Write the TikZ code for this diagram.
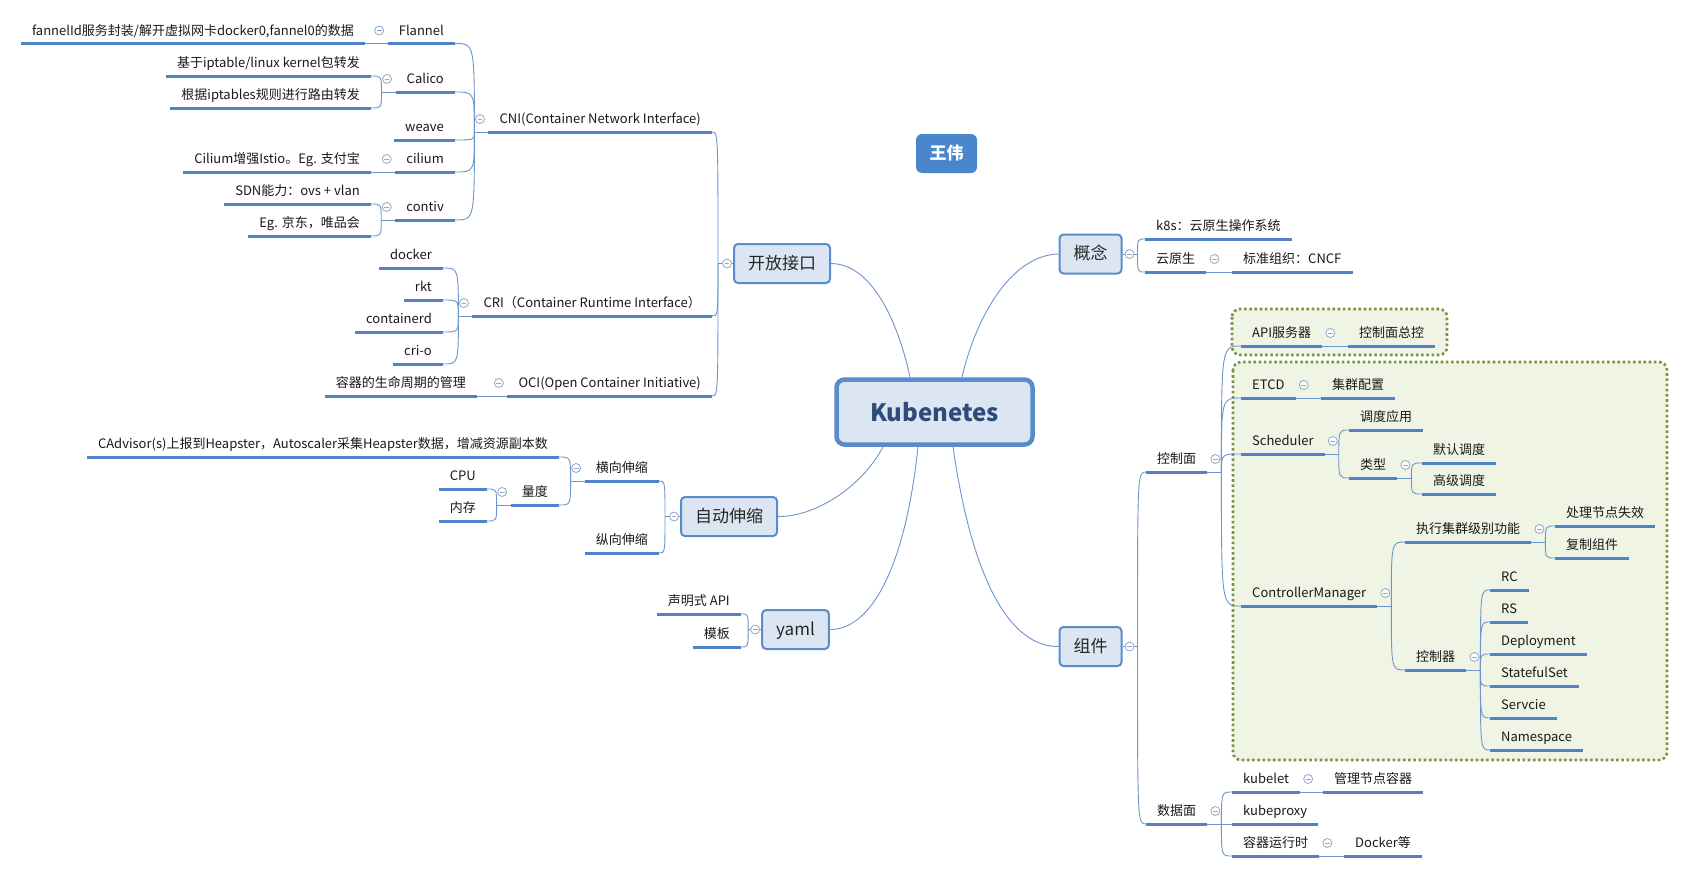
\documentclass[tikz,border=0pt]{standalone}
\usepackage{fontspec}
\setmainfont{Noto Sans CJK SC}
\definecolor{uline}{HTML}{4F83C6}
\definecolor{conncol}{HTML}{6D95CB}
\definecolor{boxfill}{HTML}{DCE6F2}
\definecolor{boxdraw}{HTML}{5A8BCB}
\definecolor{circol}{HTML}{8FA8CC}
\definecolor{gfill}{HTML}{EFF4E4}
\definecolor{gdraw}{HTML}{7A9440}
\definecolor{wbfill}{HTML}{4A86CC}
\definecolor{kubetxt}{HTML}{2E4B7C}
\newcommand{\mmL}[2]{\draw[cn] (#1j) .. controls (#1j |- #2.south east) .. (#2.south east);}
\newcommand{\mmR}[2]{\draw[cn] (#1j) .. controls (#1j |- #2.south west) .. (#2.south west);}
\tikzset{
  tbase/.style={font=\fontsize{13}{13}\selectfont, inner xsep=11pt, inner ysep=5pt, text height=10pt, text depth=3pt, text=black!90},
  lnode/.style={tbase, anchor=south east},
  rnode/.style={tbase, anchor=south west},
  mainbox/.style={draw=boxdraw, line width=2pt, fill=boxfill, rounded corners=4pt, minimum height=39pt, inner xsep=14pt, text height=14pt, text depth=3pt, font=\fontsize{17}{17}\selectfont, text=black!85},
  kubebox/.style={draw=boxdraw, line width=4.5pt, fill=boxfill, rounded corners=8pt, minimum width=196pt, minimum height=65pt, font=\fontsize{24}{24}\selectfont\bfseries, text=kubetxt},
  wwbox/.style={fill=wbfill, rounded corners=6pt, minimum width=61pt, minimum height=39pt, font=\fontsize{17}{17}\selectfont\bfseries, text=white},
  gbox/.style={draw=gdraw, fill=gfill, line width=2.6pt, dash pattern=on 2.6pt off 2.6pt, rounded corners=8pt},
  ul/.style={draw=uline, line width=3pt},
  cn/.style={draw=conncol, line width=0.9pt},
  tog/.style={circle, draw=circol, fill=white, line width=0.8pt, minimum size=9pt, inner sep=0pt,
    path picture={\draw[circol,line width=0.8pt] ([xshift=-2.4pt]path picture bounding box.center) -- ([xshift=2.4pt]path picture bounding box.center);}},
}
\begin{document}
\begin{tikzpicture}[x=1pt,y=-1pt]
\useasboundingbox (0,0) rectangle (1684,873);
\fill[white] (0,0) rectangle (1684,873);

% green dotted groups
\draw[gbox] (1232,309) rectangle (1447,355);
\draw[gbox] (1233,362) rectangle (1667,760);

% central and main boxes
\node[kubebox] (kube) at (934.5,412) {Kubenetes};
\node[wwbox] (ww) at (946.5,153.5) {王伟};
\node[mainbox] (kf) at (782,263.5) {开放接口};
\node[mainbox] (gn) at (1090.5,254) {概念};
\node[mainbox] (zd) at (729,516.5) {自动伸缩};
\node[mainbox] (ym) at (795.5,629.5) {yaml};
\node[mainbox] (zj) at (1090.5,646.5) {组件};

% ---- left side topics
\node[lnode] (cni) at (712,132) {CNI(Container Network Interface)};
\node[lnode] (fl) at (455,43.5) {Flannel};
\node[lnode] (fld) at (365,43.5) {fannelId服务封装/解开虚拟网卡docker0,fannel0的数据};
\node[lnode] (ca) at (455,92) {Calico};
\node[lnode] (caa) at (371,76) {基于iptable/linux kernel包转发};
\node[lnode] (cab) at (371,108) {根据iptables规则进行路由转发};
\node[lnode] (we) at (455,140) {weave};
\node[lnode] (ci) at (455,172) {cilium};
\node[lnode] (cia) at (371,172) {Cilium增强Istio。Eg. 支付宝};
\node[lnode] (co) at (455,220) {contiv};
\node[lnode] (coa) at (371,204) {SDN能力：ovs + vlan};
\node[lnode] (cob) at (371,236) {Eg. 京东，唯品会};
\node[lnode] (cri) at (712,316) {CRI（Container Runtime Interface）};
\node[lnode] (dk) at (443,268) {docker};
\node[lnode] (rkt) at (443,300) {rkt};
\node[lnode] (ctd) at (443,332) {containerd};
\node[lnode] (crio) at (443,364) {cri-o};
\node[lnode] (oci) at (712,396) {OCI(Open Container Initiative)};
\node[lnode] (ocia) at (477,396) {容器的生命周期的管理};
\node[lnode] (hx) at (659,481) {横向伸缩};
\node[lnode] (zx) at (659,553) {纵向伸缩};
\node[lnode] (cad) at (559,457) {CAdvisor(s)上报到Heapster，Autoscaler采集Heapster数据，增减资源副本数};
\node[lnode] (ld) at (559,505) {量度};
\node[lnode] (cpu) at (487,489) {CPU};
\node[lnode] (mem) at (487,521) {内存};
\node[lnode] (sm) at (741,614) {声明式 API};
\node[lnode] (mb) at (741,647) {模板};

% ---- right side topics
\node[rnode] (ks) at (1145,239) {k8s：云原生操作系统};
\node[rnode] (yy) at (1145,272) {云原生};
\node[rnode] (bz) at (1232,272) {标准组织：CNCF};
\node[rnode] (kzm) at (1146,472) {控制面};
\node[rnode] (sjm) at (1146,824) {数据面};
\node[rnode] (api) at (1241,346) {API服务器};
\node[rnode] (apic) at (1348,346) {控制面总控};
\node[rnode] (etcd) at (1241,398) {ETCD};
\node[rnode] (jq) at (1321,398) {集群配置};
\node[rnode] (sch) at (1241,454) {Scheduler};
\node[rnode] (ddyy) at (1349,430) {调度应用};
\node[rnode] (lx) at (1349,478) {类型};
\node[rnode] (mr) at (1422,463) {默认调度};
\node[rnode] (gj) at (1422,494) {高级调度};
\node[rnode] (cm) at (1241,606) {ControllerManager};
\node[rnode] (jqf) at (1405,542) {执行集群级别功能};
\node[rnode] (cl) at (1555,526) {处理节点失效};
\node[rnode] (fz) at (1555,558) {复制组件};
\node[rnode] (kzq) at (1405,670) {控制器};
\node[rnode] (rc) at (1490,590) {RC};
\node[rnode] (rs) at (1490,622) {RS};
\node[rnode] (dep) at (1490,654) {Deployment};
\node[rnode] (sts) at (1490,686) {StatefulSet};
\node[rnode] (svc) at (1490,718) {Servcie};
\node[rnode] (ns) at (1490,750) {Namespace};
\node[rnode] (kbl) at (1232,792) {kubelet};
\node[rnode] (glr) at (1323,792) {管理节点容器};
\node[rnode] (kbp) at (1232,824) {kubeproxy};
\node[rnode] (rqr) at (1232,856) {容器运行时};
\node[rnode] (dkd) at (1344,856) {Docker等};

% ---- central connectors
\draw[cn] ([xshift=-24.5pt]kube.north) .. controls (900,330) and (875,264) .. (kf.east);
\draw[cn] ([xshift=27.5pt]kube.north) .. controls (975,320) and (1010,255) .. (gn.west);
\draw[cn] ([xshift=-51.5pt]kube.south) .. controls (862,487) and (815,517) .. (zd.east);
\draw[cn] ([xshift=-16.5pt]kube.south) .. controls (905,570) and (870,630) .. (ym.east);
\draw[cn] ([xshift=18.5pt]kube.south) .. controls (972,580) and (1010,647) .. (zj.west);

% ---- junctions
\coordinate (kfj) at ([xshift=-15pt]kf.west);
\coordinate (zdj) at ([xshift=-15pt]zd.west);
\coordinate (ymj) at ([xshift=-13pt]ym.west);
\coordinate (gnj) at ([xshift=15pt]gn.east);
\coordinate (zjj) at ([xshift=15pt]zj.east);
\foreach \n in {cni,ca,co,cri,hx,ld} \coordinate (\n j) at ([xshift=-14pt]\n.south west);
\foreach \n in {kzm,sch,lx,cm,jqf,kzq,sjm} \coordinate (\n j) at ([xshift=14pt]\n.south east);

\draw[cn] (kf.west) -- (kfj);
\draw[cn] (zd.west) -- (zdj);
\draw[cn] (ym.west) -- (ymj);
\draw[cn] (gn.east) -- (gnj);
\draw[cn] (zj.east) -- (zjj);
\foreach \n in {cni,ca,co,cri,hx,ld} \draw[cn] (\n.south west) -- (\n j);
\foreach \n in {kzm,sch,lx,cm,jqf,kzq,sjm} \draw[cn] (\n.south east) -- (\n j);

% left branches
\mmL{kf}{cni} \mmL{kf}{cri} \mmL{kf}{oci}
\mmL{cni}{fl} \mmL{cni}{ca} \mmL{cni}{we} \mmL{cni}{ci} \mmL{cni}{co}
\mmL{ca}{caa} \mmL{ca}{cab}
\mmL{co}{coa} \mmL{co}{cob}
\mmL{cri}{dk} \mmL{cri}{rkt} \mmL{cri}{ctd} \mmL{cri}{crio}
\mmL{zd}{hx} \mmL{zd}{zx}
\mmL{hx}{cad} \mmL{hx}{ld}
\mmL{ld}{cpu} \mmL{ld}{mem}
\mmL{ym}{sm} \mmL{ym}{mb}
\draw[cn] (fl.south west) -- (fld.south east);
\draw[cn] (ci.south west) -- (cia.south east);
\draw[cn] (oci.south west) -- (ocia.south east);

% right branches
\mmR{gn}{ks} \mmR{gn}{yy}
\mmR{zj}{kzm} \mmR{zj}{sjm}
\mmR{kzm}{api} \mmR{kzm}{etcd} \mmR{kzm}{sch} \mmR{kzm}{cm}
\mmR{sch}{ddyy} \mmR{sch}{lx}
\mmR{lx}{mr} \mmR{lx}{gj}
\mmR{cm}{jqf} \mmR{cm}{kzq}
\mmR{jqf}{cl} \mmR{jqf}{fz}
\mmR{kzq}{rc} \mmR{kzq}{rs} \mmR{kzq}{dep} \mmR{kzq}{sts} \mmR{kzq}{svc} \mmR{kzq}{ns}
\mmR{sjm}{kbl} \mmR{sjm}{kbp} \mmR{sjm}{rqr}
\draw[cn] (yy.south east) -- (bz.south west);
\draw[cn] (api.south east) -- (apic.south west);
\draw[cn] (etcd.south east) -- (jq.south west);
\draw[cn] (kbl.south east) -- (glr.south west);
\draw[cn] (rqr.south east) -- (dkd.south west);

% underlines
\foreach \n in {cni,fl,fld,ca,caa,cab,we,ci,cia,co,coa,cob,cri,dk,rkt,ctd,crio,oci,ocia,hx,zx,cad,ld,cpu,mem,sm,mb,
  ks,yy,bz,kzm,sjm,api,apic,etcd,jq,sch,ddyy,lx,mr,gj,cm,jqf,cl,fz,kzq,rc,rs,dep,sts,svc,ns,kbl,glr,kbp,rqr,dkd}
  \draw[ul] (\n.south west) -- (\n.south east);

% collapse toggles
\foreach \n in {cni,fl,ca,ci,co,cri,oci,hx,ld}
  \node[tog] (t\n) at ([xshift=-8.5pt,yshift=13pt]\n.south west) {};
\foreach \n in {yy,kzm,api,etcd,sch,lx,cm,jqf,kzq,sjm,kbl,rqr}
  \node[tog] (t\n) at ([xshift=8pt,yshift=13pt]\n.south east) {};
\foreach \n in {kf,zd,ym}
  \node[tog] (t\n) at ([xshift=-6pt]\n.west) {};
\foreach \n in {gn,zj}
  \node[tog] (t\n) at ([xshift=7pt]\n.east) {};
\end{tikzpicture}
\end{document}
